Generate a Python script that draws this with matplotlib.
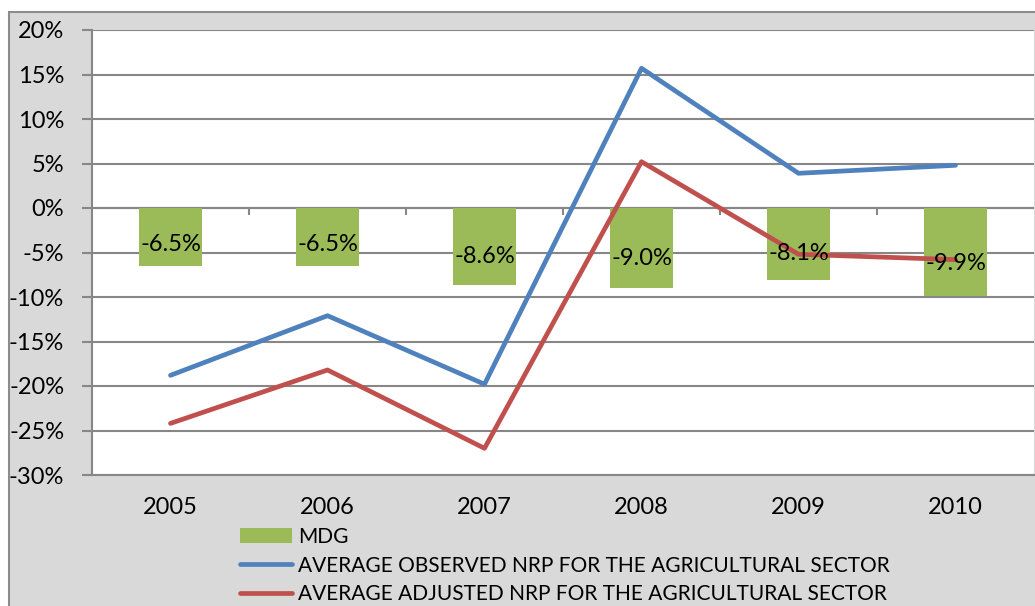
import numpy as np
import matplotlib
matplotlib.use("Agg")
import matplotlib.pyplot as plt
from matplotlib.patches import Rectangle
from matplotlib.ticker import FuncFormatter

years = ["2005", "2006", "2007", "2008", "2009", "2010"]
mdg = [-6.5, -6.5, -8.6, -9.0, -8.1, -9.9]
observed = [-18.8, -12.1, -19.8, 15.7, 3.9, 4.8]
adjusted = [-24.2, -18.2, -27.0, 5.2, -5.2, -5.8]

plt.rcParams["font.family"] = ["Lato", "DejaVu Sans"]

GREEN, BLUE, RED = "#9BBB59", "#4F81BD", "#C0504D"
GRID = "#878787"

fig = plt.figure(figsize=(10.35, 6.06), dpi=100, facecolor="white")
# gray chart area (Excel style)
fig.patches.append(Rectangle((9 / 1035, -0.1), 1.2, (606 - 12) / 606 + 0.1,
                             transform=fig.transFigure, facecolor="#D9D9D9",
                             edgecolor="#8C8C8C", linewidth=1.5, zorder=-5))
ax = fig.add_axes([92 / 1035, 131 / 606, 942 / 1035, 445 / 606])
ax.set_facecolor("white")

x = np.arange(len(years))
hb = ax.bar(x, mdg, width=0.4, color=GREEN, label="MDG", zorder=2)
hobs, = ax.plot(x, observed, color=BLUE, lw=3.4, solid_capstyle="round",
                label="AVERAGE OBSERVED NRP FOR THE AGRICULTURAL SECTOR", zorder=3)
hadj, = ax.plot(x, adjusted, color=RED, lw=3.4, solid_capstyle="round",
                label="AVERAGE ADJUSTED NRP FOR THE AGRICULTURAL SECTOR", zorder=3)

for xi, v in zip(x, mdg):
    ax.text(xi, v * 0.63, f"{v:.1f}%", ha="center", va="center",
            fontsize=17, color="black", zorder=5)

ax.set_xlim(-0.5, len(years) - 0.5)
ax.set_ylim(-30, 20)
ax.set_yticks(np.arange(-30, 21, 5))
ax.yaxis.set_major_formatter(FuncFormatter(lambda v, p: f"{v:.0f}%"))
ax.grid(axis="y", color=GRID, lw=1.5, zorder=1)
ax.set_axisbelow(True)

# category axis crosses at zero, with tick marks at category boundaries
ax.axhline(0, color=GRID, lw=1.5, zorder=1)
ax.vlines(np.arange(len(years) - 1) + 0.5, -0.8, 0, color=GRID, lw=1.5, zorder=1)

ax.set_xticks(x)
ax.set_xticklabels(years)
ax.tick_params(axis="x", length=0, pad=16, labelsize=17)
ax.tick_params(axis="y", length=7, width=1.5, color=GRID, pad=13, labelsize=17)

for s in ["top", "right"]:
    ax.spines[s].set_visible(False)
for s in ["left", "bottom"]:
    ax.spines[s].set_color(GRID)
    ax.spines[s].set_linewidth(1.5)

leg = fig.legend([hb, hobs, hadj], [hb.get_label(), hobs.get_label(), hadj.get_label()],
                 loc="upper left", bbox_to_anchor=(240 / 1035, 79 / 606),
                 frameon=False, fontsize=15, handlelength=2.5, handletextpad=0.3,
                 labelspacing=0.42, borderpad=0, borderaxespad=0)

fig.savefig("out.png", dpi=100, facecolor="white")
